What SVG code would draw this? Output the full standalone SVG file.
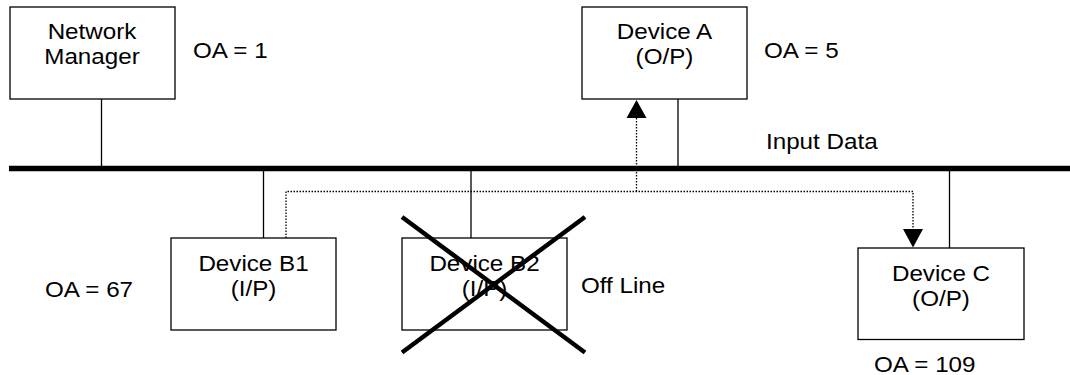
<svg xmlns="http://www.w3.org/2000/svg" width="1070" height="375" viewBox="0 0 1070 375">
  <style>
    .box { fill: #fff; stroke: #000; stroke-width: 1.3; }
    .t { font-family: "Liberation Sans", Arial, sans-serif; font-size: 22px; fill: #000; }
    .c { text-anchor: middle; }
    .wire { stroke: #000; stroke-width: 1.3; fill: none; }
    .dot { stroke: #000; stroke-width: 1.3; fill: none; stroke-dasharray: 1.5 1.5; }
    .bus { stroke: #000; stroke-width: 5.5; }
    .cross { stroke: #000; stroke-width: 4.5; }
    .head { fill: #000; }
  </style>

  <g id="connectors">
    <line class="bus" x1="9" y1="168.5" x2="1070" y2="168.5"/>
    <line class="wire" x1="101.5" y1="99" x2="101.5" y2="166"/>
    <line class="wire" x1="678" y1="99" x2="678" y2="166"/>
    <line class="wire" x1="263.5" y1="171" x2="263.5" y2="238"/>
    <line class="wire" x1="471" y1="171" x2="471" y2="238"/>
    <line class="wire" x1="949.5" y1="171" x2="949.5" y2="248"/>
    <polyline class="dot" points="286,238 286,191.5 913,191.5 913,230"/>
    <line class="dot" x1="636.5" y1="191.5" x2="636.5" y2="116"/>
    <path class="head" d="M903,229 L923,229 L913,247.5 Z"/>
    <path class="head" d="M626.5,118 L646.5,118 L636.5,100 Z"/>
  </g>

  <g id="network-manager">
    <rect class="box" x="10" y="7" width="165" height="92"/>
    <text class="t c" transform="translate(92,39) scale(1.1,1)">Network</text>
    <text class="t c" transform="translate(92,64) scale(1.1,1)">Manager</text>
  </g>
  <text id="oa1" class="t" transform="translate(193,58) scale(1.1,1)">OA = 1</text>

  <g id="device-a">
    <rect class="box" x="582" y="7" width="165" height="92"/>
    <text class="t c" transform="translate(664.5,39) scale(1.1,1)">Device A</text>
    <text class="t c" transform="translate(664.5,64) scale(1.1,1)">(O/P)</text>
  </g>
  <text id="oa5" class="t" transform="translate(764,58) scale(1.1,1)">OA = 5</text>
  <text id="input-data" class="t" transform="translate(766,148.5) scale(1.1,1)">Input Data</text>

  <g id="device-b1">
    <rect class="box" x="171" y="238" width="165" height="92"/>
    <text class="t c" transform="translate(253.5,271) scale(1.1,1)">Device B1</text>
    <text class="t c" transform="translate(253.5,296) scale(1.1,1)">(I/P)</text>
  </g>
  <text id="oa67" class="t" transform="translate(45,297) scale(1.1,1)">OA = 67</text>

  <g id="device-b2">
    <rect class="box" x="402" y="238" width="165" height="92"/>
    <text class="t c" transform="translate(484.5,271) scale(1.1,1)">Device B2</text>
    <text class="t c" transform="translate(484.5,296) scale(1.1,1)">(I/P)</text>
    <line class="cross" x1="402" y1="217" x2="585" y2="352.5"/>
    <line class="cross" x1="585" y1="217" x2="402" y2="352.5"/>
  </g>
  <text id="off-line" class="t" transform="translate(581,293) scale(1.1,1)">Off Line</text>

  <g id="device-c">
    <rect class="box" x="858" y="248" width="166" height="91.5"/>
    <text class="t c" transform="translate(941,281) scale(1.1,1)">Device C</text>
    <text class="t c" transform="translate(941,306) scale(1.1,1)">(O/P)</text>
  </g>
  <text id="oa109" class="t" transform="translate(874,372) scale(1.1,1)">OA = 109</text>
</svg>
